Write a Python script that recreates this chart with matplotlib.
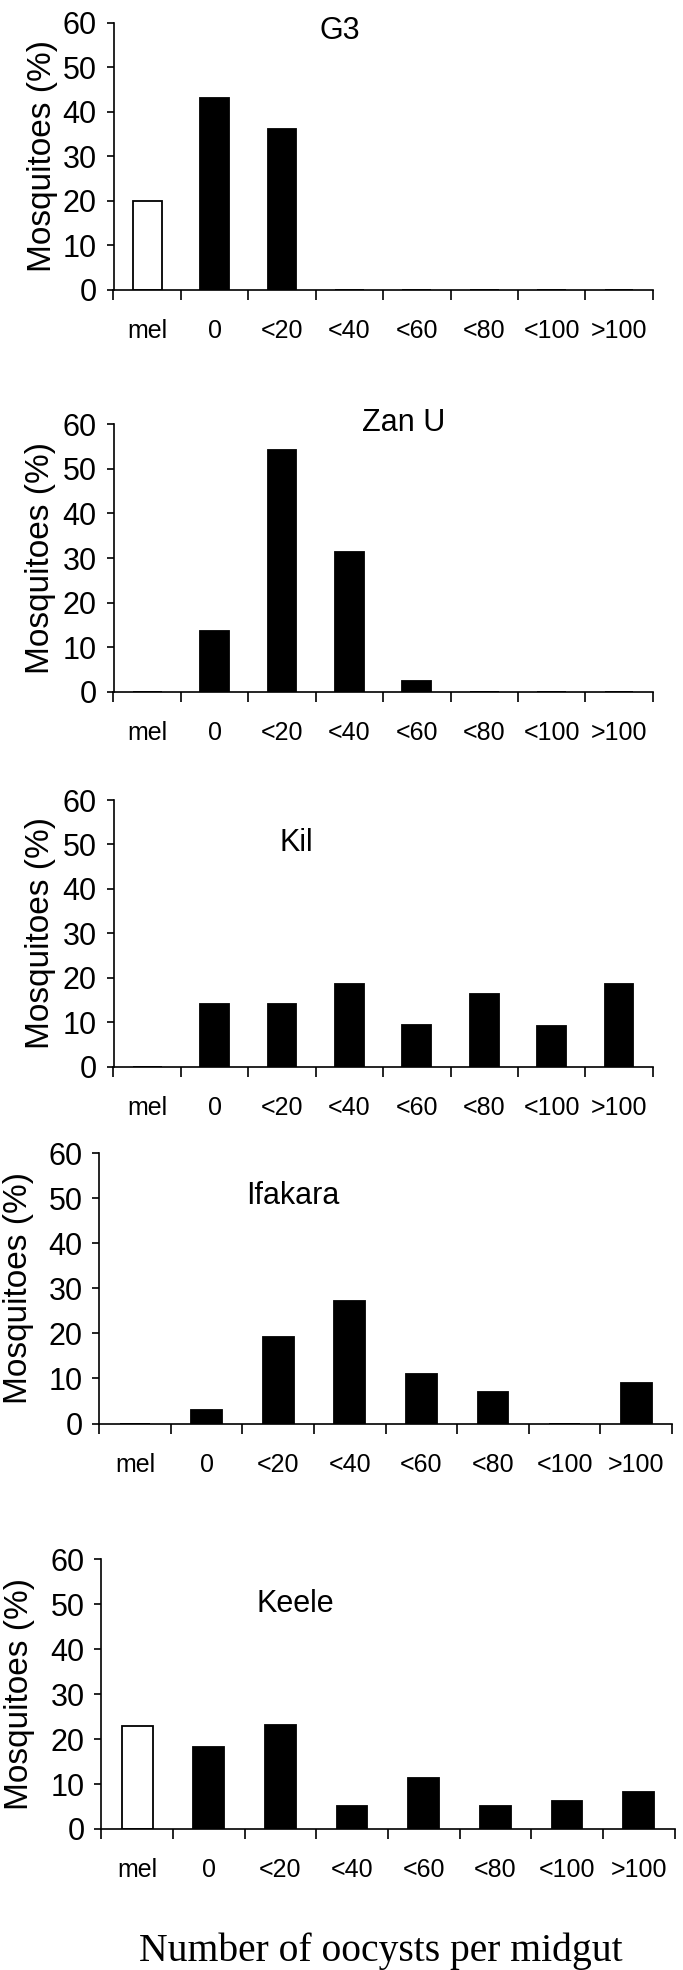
import matplotlib
matplotlib.use("Agg")
import matplotlib.pyplot as plt
import numpy as np

categories = ['mel', '0', '<20', '<40', '<60', '<80', '<100', '>100']
panel_names = ['G3', 'Zan U', 'Kil', 'Ifakara', 'Keele']
g3_values = [20.0, 43.0, 36.0, 0, 0, 0, 0, 0]
zanu_values = [0, 13.6, 54.2, 31.4, 2.3, 0, 0, 0]
kil_values = [0, 14.1, 14.1, 18.7, 9.4, 16.4, 9.1, 18.6]
ifakara_values = [0, 2.9, 19.3, 27.3, 11.0, 7.0, 0, 9.1]
keele_values = [23.0, 18.2, 23.1, 5.2, 11.3, 5.2, 6.2, 8.2]
y_ticks = [0, 10, 20, 30, 40, 50, 60]
y_label = 'Mosquitoes (%)'
x_label = 'Number of oocysts per midgut'

all_values = [g3_values, zanu_values, kil_values, ifakara_values, keele_values]

W, H = 683, 1970
fig = plt.figure(figsize=(W / 100, H / 100), dpi=100)
plt.rcParams['font.family'] = ['Liberation Sans', 'DejaVu Sans']

# axes boxes in pixels: left, right, top(60), bottom(0)
boxes = [
    (113.5, 652.7, 22.7, 289.5),
    (113.5, 652.7, 424.3, 691.7),
    (113.5, 652.7, 800.0, 1066.7),
    (99.3, 672.0, 1153.3, 1423.5),
    (101.3, 674.5, 1559.3, 1829.0),
]
title_pos = [(339.5, 31), (403.5, 423), (296, 843), (293, 1196), (295, 1604)]
ylabel_x = [42.6, 41.0, 41.0, 18.6, 19.6]

x = np.arange(len(categories))
for i, (vals, name) in enumerate(zip(all_values, panel_names)):
    l, r, t, b = boxes[i]
    ax = fig.add_axes([l / W, 1 - b / H, (r - l) / W, (b - t) / H])
    fills = ['white' if c == 'mel' else 'black' for c in categories]
    ax.bar(x, vals, width=0.43, color=fills, edgecolor='black', linewidth=1.3)
    ax.set_xlim(-0.5, len(categories) - 0.5)
    ax.set_ylim(0, 60)
    ax.set_yticks(y_ticks)
    ax.set_yticklabels([str(v) for v in y_ticks], fontsize=22)
    ax.set_xticks(np.arange(-0.5, len(categories), 1.0))
    ax.set_xticklabels([])
    ax.set_xticks(x, minor=True)
    ax.set_xticklabels(categories, minor=True, fontsize=18)
    ax.tick_params(axis='x', which='major', direction='out', length=7.5, width=1.2)
    ax.tick_params(axis='x', which='minor', length=0, pad=21)
    ax.tick_params(axis='y', direction='out', length=5, width=1.2, pad=7)
    for s in ['top', 'right']:
        ax.spines[s].set_visible(False)
    for s in ['left', 'bottom']:
        ax.spines[s].set_linewidth(1.2)
    tx, ty = title_pos[i]
    fig.text(tx / W, 1 - ty / H, name, ha='center', va='center', fontsize=22)
    fig.text(ylabel_x[i] / W, 1 - ((t + b) / 2) / H, y_label, rotation=90,
             ha='center', va='center', fontsize=24)

fig.text(381 / W, 1 - 1961.5 / H, x_label, ha='center', va='baseline',
         fontsize=28.5, family=['Liberation Serif', 'DejaVu Serif'])

fig.savefig('out.png', dpi=100)
